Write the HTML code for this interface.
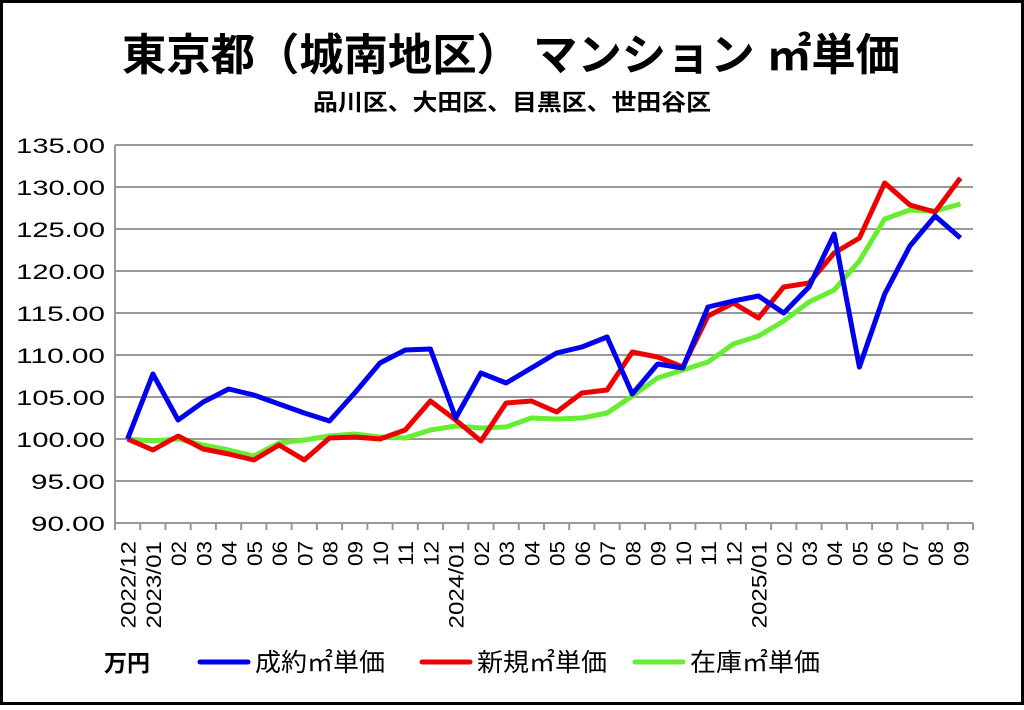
<!DOCTYPE html>
<html><head><meta charset="utf-8"><style>
body{margin:0;background:#fff}
svg text{font-family:"Liberation Sans","Noto Sans CJK JP",sans-serif}
</style></head><body>
<svg width="1024" height="705" viewBox="0 0 1024 705" xmlns="http://www.w3.org/2000/svg">
<rect x="1.5" y="1.5" width="1021" height="702" fill="#fff" stroke="#000" stroke-width="3"/>
<text x="511" y="70" text-anchor="middle" font-size="44" font-weight="bold" textLength="778" lengthAdjust="spacingAndGlyphs">東京都（城南地区） マンション ㎡単価</text>
<text x="512" y="110" text-anchor="middle" font-size="23" font-weight="bold" textLength="398" lengthAdjust="spacingAndGlyphs">品川区、大田区、目黒区、世田谷区</text>
<g id="grid" stroke="#999" stroke-width="2"></g>
<g id="lab" font-size="21" text-anchor="end"></g>
<g id="xl" font-size="21"></g>
<g id="lines" fill="none" stroke-width="5" stroke-linejoin="round"></g>
<text x="104" y="671" font-size="23" font-weight="bold">万円</text>
<line x1="200" y1="662" x2="248" y2="662" stroke="#0000ee" stroke-width="5" stroke-linecap="round"/>
<text x="255" y="671" font-size="25" textLength="130" lengthAdjust="spacingAndGlyphs">成約㎡単価</text>
<line x1="422" y1="662" x2="470" y2="662" stroke="#ee0000" stroke-width="5" stroke-linecap="round"/>
<text x="477" y="671" font-size="25" textLength="130" lengthAdjust="spacingAndGlyphs">新規㎡単価</text>
<line x1="635" y1="662" x2="683" y2="662" stroke="#66ee33" stroke-width="5" stroke-linecap="round"/>
<text x="690" y="671" font-size="25" textLength="130" lengthAdjust="spacingAndGlyphs">在庫㎡単価</text>
</svg>
<script>
const NS="http://www.w3.org/2000/svg";
function el(p,t,a,txt){const e=document.createElementNS(NS,t);for(const k in a)e.setAttribute(k,a[k]);if(txt)e.textContent=txt;document.getElementById(p).appendChild(e);}
const L=115,R=973,n=34,w=(R-L)/n;
for(let i=0;i<=9;i++){const y=523-i*42;el('grid','line',{x1:L,x2:R,y1:y,y2:y});const s=(90+i*5).toFixed(2);el('lab','text',{x:105,y:y+8,textLength:s.length*14.8,lengthAdjust:'spacingAndGlyphs'},s);}
el('grid','line',{x1:L,x2:L,y1:145,y2:523});
for(let i=0;i<=n;i++){const x=L+i*w;el('grid','line',{x1:x,x2:x,y1:523,y2:530});}
const labs=['2022/12','2023/01','02','03','04','05','06','07','08','09','10','11','12','2024/01','02','03','04','05','06','07','08','09','10','11','12','2025/01','02','03','04','05','06','07','08','09'];
labs.forEach((s,i)=>{const x=L+(i+0.5)*w+8;el('xl','text',{x:0,y:0,transform:`translate(${x},541) rotate(-90)`,'text-anchor':'end',textLength:s.length*12.5,lengthAdjust:'spacingAndGlyphs'},s);});
const B=[439,374,420,402,389,395,404,413,421,393,363,350,349,418,373,383,368,353,347,337,394,364,368,307,301,296,313,287,234,367,294,246,216,238];
const Rd=[439,450,436,449,454,460,445,460,438,437,439,430,401,420,441,403,401,412,393,390,352,357,367,316,303,318,287,283,253,238,183,205,212,178];
const G=[439,441,439,445,450,456,443,440,436,434,437,438,430,426,428,427,418,419,418,413,396,378,370,362,344,336,321,302,290,261,219,210,211,204];
function pl(d,c){el('lines','polyline',{stroke:c,points:d.map((y,i)=>(L+(i+0.5)*w).toFixed(1)+','+y).join(' ')});}
pl(G,'#66ee33');pl(Rd,'#ee0000');pl(B,'#0000ee');
</script>
</body></html>
